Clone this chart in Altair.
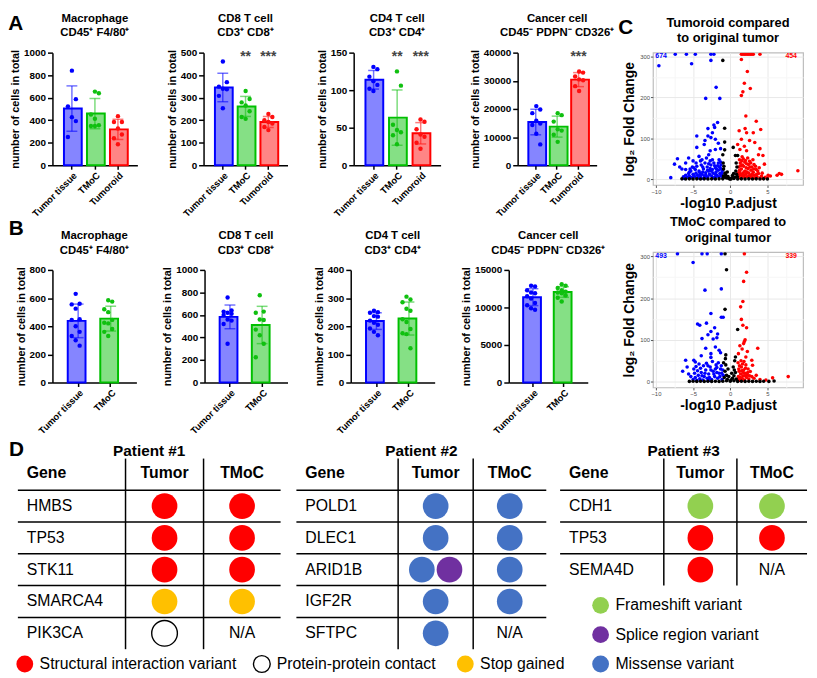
import altair as alt
import pandas as pd

FONT = "Liberation Sans"

# ---------------- Panels A and B : groups, values, ticks ----------------
groups_a = ["Tumor tissue", "TMoC", "Tumoroid"]
groups_b = ["Tumor tissue", "TMoC"]

a_mac_tumor = [840, 587, 523, 427, 392, 250]
a_mac_tmoc = [654, 640, 450, 413, 355, 349, 349]
a_mac_tumoroid = [436, 384, 384, 326, 273, 240, 186]
a_cd8_tumor = [461, 369, 349, 340, 337, 308, 253]
a_cd8_tmoc = [330, 294, 279, 265, 240, 214, 206]
a_cd8_tumoroid = [228, 214, 200, 192, 185, 170, 156]
a_cd4_tumor = [131, 128, 118, 112, 107, 102, 99]
a_cd4_tmoc = [125, 106, 54, 47, 44, 40, 28]
a_cd4_tumoroid = [61, 58, 48, 41, 38, 30, 22]
a_can_tumor = [21000, 19800, 18500, 15800, 14800, 14300, 11200, 7400]
a_can_tmoc = [18500, 17800, 15500, 12800, 12300, 10800, 8300]
a_can_tumoroid = [33300, 32900, 31500, 30500, 30200, 28100, 26400]

b_mac_tumor = [630, 560, 555, 525, 450, 445, 400, 360, 330, 300, 262]
b_mac_tmoc = [585, 575, 520, 500, 445, 425, 420, 380, 360, 330]
b_cd8_tumor = [755, 640, 630, 620, 610, 600, 560, 550, 520, 345]
b_cd8_tmoc = [775, 630, 620, 560, 555, 470, 420, 345, 225]
b_cd4_tumor = [255, 250, 248, 236, 234, 220, 212, 205, 192, 180, 168]
b_cd4_tmoc = [305, 295, 285, 262, 255, 225, 215, 190, 175, 172, 122]
b_can_tumor = [12900, 12800, 12300, 12000, 11900, 11500, 11200, 10600, 10300, 9900, 9700]
b_can_tmoc = [13100, 12900, 12600, 12300, 12100, 12000, 11900, 11600, 11300, 10800]

ticks_a_mac = [0, 200, 400, 600, 800, 1000]
ticks_a_cd8 = [0, 100, 200, 300, 400, 500]
ticks_a_cd4 = [0, 50, 100, 150]
ticks_a_can = [0, 10000, 20000, 30000, 40000]
ticks_b_mac = [0, 200, 400, 600, 800]
ticks_b_cd8 = [0, 200, 400, 600, 800, 1000]
ticks_b_cd4 = [0, 100, 200, 300, 400]
ticks_b_can = [0, 5000, 10000, 15000]

title_mac = ["Macrophage", "CD45\u207a F4/80\u207a"]
title_cd8 = ["CD8 T cell", "CD3\u207a CD8\u207a"]
title_cd4 = ["CD4 T cell", "CD3\u207a CD4\u207a"]
title_can = ["Cancer cell", "CD45\u207b PDPN\u207b CD326\u207a"]
y_title_bar = "number of cells in total"

sig_groups_cd = ["TMoC", "Tumoroid"]
sig_labels_cd = ["**", "***"]
sig_groups_can = ["Tumoroid"]
sig_labels_can = ["***"]

# ---------------- Panel C : volcano points (x = -log10 P.adjust, y = log2 FC) ----------------
v1_top_down = [-7.4, -5.9, -4.7, -2.6, -2.2]
v1_top_up = [1.5, 1.7, 1.9, 2.1, 2.3, 2.5, 2.7, 2.9, 3.1, 4.0]
v1_down = [(-9.6, 278), (-5.2, 283), (-2.6, 291), (-1.9, 225), (-3.3, 198), (-1.4, 198), (-1.7, 139),
           (-2.2, 133), (-2.1, 127), (-3.0, 124), (-2.4, 114), (-4.5, 106), (-3.0, 106), (-3.4, 95),
           (-2.6, 102), (-2.0, 98), (-4.5, 78), (-2.0, 73), (-1.3, 75), (-5.6, 52), (-7.1, 50), (-7.5, 37),
           (-4.2, 56), (-3.8, 48), (-2.9, 60), (-6.5, 25), (-6.0, 24), (-5.5, 18), (-8.0, 4), (-6.2, 2),
           (-3.5, 85), (-1.6, 88), (-2.7, 70),
           (-5.8, 5), (-5.5, 8), (-5.2, 4), (-5.0, 12), (-4.8, 6), (-4.6, 15), (-4.4, 9), (-4.2, 20),
           (-4.0, 5), (-3.8, 12), (-3.6, 25), (-3.5, 8), (-3.3, 16), (-3.1, 30), (-3.0, 6), (-2.9, 20),
           (-2.8, 12), (-2.6, 35), (-2.5, 8), (-2.4, 24), (-2.3, 15), (-2.2, 40), (-2.1, 5), (-2.0, 28),
           (-1.9, 18), (-1.8, 10), (-1.7, 33), (-1.6, 22), (-1.5, 6), (-1.4, 14), (-1.3, 26), (-1.2, 9),
           (-1.1, 18), (-1.0, 4), (-5.3, 20), (-4.9, 28), (-4.5, 32), (-4.1, 10), (-3.9, 35), (-3.4, 40),
           (-3.2, 4), (-2.7, 45), (-2.0, 12), (-1.6, 40), (-1.25, 35), (-5.6, 14), (-6.0, 10), (-6.3, 6),
           (-4.3, 3), (-3.7, 18), (-2.55, 20), (-1.85, 25), (-1.45, 30), (-1.15, 12), (-2.35, 3),
           (-3.05, 22), (-4.7, 24), (-5.1, 30), (-6.8, 30), (-6.0, 40), (-5.0, 45), (-4.0, 45),
           (-3.2, 52), (-2.4, 48), (-1.5, 48), (-4.6, 40), (-3.7, 30), (-2.9, 38), (-2.1, 33), (-1.3, 42),
           (-5.4, 25), (-3.3, 10), (-2.7, 26), (-1.9, 6), (-1.05, 22), (-4.1, 16), (-4.9, 10), (-3.6, 2)]
v1_up = [(1.5, 293), (2.3, 264), (1.9, 235), (2.7, 222), (1.7, 214), (1.5, 205), (2.1, 155), (3.5, 142),
         (1.2, 119), (2.0, 124), (4.1, 122), (2.2, 114), (3.1, 114), (1.5, 98), (1.0, 85), (1.9, 81),
         (1.3, 73), (4.0, 75), (2.2, 70), (4.4, 58), (4.6, 37), (5.1, 10), (5.4, 8), (6.3, 10), (6.6, 14),
         (6.9, 12), (9.1, 21), (3.3, 90), (2.6, 95), (3.8, 60),
         (1.1, 5), (1.2, 10), (1.3, 18), (1.4, 3), (1.5, 25), (1.6, 8), (1.7, 14), (1.8, 32), (1.9, 5),
         (2.0, 20), (2.1, 12), (2.2, 38), (2.3, 6), (2.4, 26), (2.5, 15), (2.6, 44), (2.7, 9), (2.8, 22),
         (2.9, 30), (3.0, 4), (3.1, 17), (3.2, 36), (3.3, 10), (3.5, 24), (3.6, 6), (3.8, 14), (4.0, 3),
         (4.2, 8), (4.4, 2), (1.15, 30), (1.35, 40), (1.55, 45), (1.75, 50), (1.25, 22), (1.45, 12),
         (1.65, 35), (1.85, 18), (2.05, 46), (2.35, 52), (2.75, 40), (3.05, 48), (3.4, 32), (3.7, 20),
         (3.9, 28), (4.3, 15), (4.7, 5), (5.0, 3), (1.05, 15), (2.15, 28), (2.55, 8), (2.95, 12),
         (3.35, 3), (1.95, 42), (1.4, 33), (1.8, 10), (2.25, 18), (2.65, 30), (3.15, 25), (1.6, 55),
         (2.45, 36), (1.25, 48), (3.55, 12), (2.85, 4)]
v1_ns = [(-1.0, 291), (-0.75, 125), (-0.75, 91), (0.4, 78), (-0.75, 72), (-1.0, 60), (0.7, 58), (1.0, 58),
         (-6.5, 1), (-6.0, 0.5), (-5.5, 1), (-5.0, 0.5), (-4.5, 1), (-4.0, 0.5), (-3.5, 1), (-3.0, 0.5),
         (-2.5, 1), (-2.0, 0.5), (-1.5, 1), (-1.0, 1), (-0.8, 5), (-0.6, 10), (-0.5, 3), (-0.4, 18),
         (-0.3, 7), (-0.2, 2), (0.0, 1), (0.2, 3), (0.3, 9), (0.45, 14), (0.6, 5), (0.75, 20), (0.85, 12),
         (0.9, 30), (-0.9, 25), (-0.95, 40), (-0.7, 15), (0.5, 2), (1.0, 0.5), (1.5, 1), (2.0, 0.5),
         (2.5, 1), (3.0, 0.5), (3.5, 1), (4.0, 0.5), (4.5, 1), (5.0, 0.5), (-0.9, 8), (0.95, 6),
         (0.1, 0.5), (-0.1, 1), (-0.85, 32), (0.8, 40)]
v1_n_down, v1_n_up = 674, 454

v2_top_down = [-7.1, -3.8, -3.1, -1.2]
v2_top_up = [1.9]
v2_top_ns = [-0.7]
v2_down = [(-5.0, 285), (-3.4, 219), (-1.2, 222), (-2.6, 163), (-1.2, 154), (-0.95, 154), (-4.4, 138),
           (-4.1, 135), (-3.2, 140), (-2.1, 129), (-2.6, 120), (-3.0, 112), (-1.7, 114), (-1.8, 105),
           (-3.8, 103), (-2.3, 102), (-3.3, 80), (-2.0, 83), (-2.6, 67), (-1.3, 69), (-6.0, 51), (-4.9, 51),
           (-5.8, 35), (-6.4, 25), (-4.7, 47), (-3.9, 62), (-2.6, 58), (-1.5, 75),
           (-5.0, 5), (-4.7, 10), (-4.5, 3), (-4.3, 15), (-4.1, 7), (-3.9, 22), (-3.7, 4), (-3.5, 12),
           (-3.3, 28), (-3.1, 8), (-2.9, 18), (-2.7, 35), (-2.5, 5), (-2.3, 25), (-2.1, 12), (-1.9, 40),
           (-1.7, 8), (-1.5, 20), (-1.3, 30), (-1.1, 5), (-0.95, 15), (-4.8, 20), (-4.4, 26), (-4.0, 32),
           (-3.6, 38), (-3.2, 44), (-2.8, 10), (-2.4, 48), (-2.0, 30), (-1.6, 45), (-1.2, 38), (-5.3, 12),
           (-5.6, 18), (-3.0, 2), (-2.2, 18), (-1.4, 12), (-3.8, 14), (-4.6, 36), (-1.8, 22), (-1.0, 28),
           (-4.2, 42), (-3.4, 20), (-2.6, 28), (-1.8, 34), (-1.15, 20), (-2.9, 4), (-4.9, 30), (-3.0, 38)]
v2_up = [(2.2, 262), (1.8, 240), (1.7, 192), (1.4, 179), (1.5, 149), (1.7, 135), (2.2, 129), (2.0, 100),
         (1.9, 96), (1.8, 91), (3.7, 80), (1.3, 86), (1.1, 67), (1.6, 78), (2.3, 72), (2.1, 59), (2.9, 51),
         (3.0, 39), (3.5, 15), (5.7, 9), (7.8, 12), (4.8, 4),
         (1.0, 5), (1.1, 12), (1.2, 25), (1.3, 3), (1.4, 18), (1.5, 35), (1.6, 8), (1.7, 14), (1.8, 28),
         (1.9, 4), (2.0, 20), (2.1, 40), (2.2, 10), (2.3, 16), (2.5, 6), (2.7, 24), (2.9, 12), (1.05, 45),
         (1.25, 38), (1.45, 50), (1.65, 42), (1.85, 48), (2.05, 32), (2.4, 30), (2.6, 14), (3.2, 8),
         (4.0, 5), (1.35, 10), (1.75, 22), (1.15, 30), (1.55, 26), (1.95, 14), (2.35, 22), (1.45, 6)]
v2_ns = [(-0.5, 268), (-0.7, 173), (1.0, 125), (-0.6, 64), (0.7, 59), (5.2, 0.5), (5.9, 1.5),
         (-5.5, 0.5), (-5.0, 1), (-4.5, 0.5), (-4.0, 1), (-3.5, 0.5), (-3.0, 1), (-2.5, 0.5), (-2.0, 1),
         (-1.5, 0.5), (-1.0, 1), (-0.5, 2), (0.0, 1), (0.5, 2), (1.0, 0.5), (1.5, 1), (2.0, 0.5), (2.5, 1),
         (3.0, 0.5), (3.5, 1), (4.0, 0.5), (4.5, 1),
         (-0.8, 10), (-0.7, 25), (-0.6, 40), (-0.5, 15), (-0.4, 5), (-0.3, 30), (-0.2, 12), (0.1, 4),
         (0.2, 20), (0.3, 8), (0.4, 35), (0.5, 14), (0.6, 50), (0.7, 22), (0.8, 6), (-0.65, 55),
         (0.55, 28), (-0.9, 45)]
v2_n_down, v2_n_up = 493, 339

title_v1 = ["Tumoroid compared", "to original tumor"]
title_v2 = ["TMoC compared to", "original tumor"]
v_x_ticks = [-10, -7.5, -5, -2.5, 0, 2.5, 5, 7.5]
v_y_ticks = [0, 50, 100, 150, 200, 250, 300]

# ---------------- Panel D : mutation tables ----------------
patients = ["Patient #1", "Patient #2", "Patient #3"]
p1_genes = ["HMBS", "TP53", "STK11", "SMARCA4", "PIK3CA"]
p1_tumor = ["SIV", "SIV", "SIV", "SG", "PPC"]
p1_tmoc = ["SIV", "SIV", "SIV", "SG", ""]
p2_genes = ["POLD1", "DLEC1", "ARID1B", "IGF2R", "SFTPC"]
p2_tumor = ["MIS", "MIS", "MIS+SPL", "MIS", "MIS"]
p2_tmoc = ["MIS", "MIS", "MIS", "MIS", ""]
p3_genes = ["CDH1", "TP53", "SEMA4D"]
p3_tumor = ["FS", "SIV", "SIV"]
p3_tmoc = ["FS", "SIV", ""]
table_headers = ["Gene", "Tumor", "TMoC"]
na_text = "N/A"
variant_keys = ["SIV", "PPC", "SG", "FS", "SPL", "MIS"]
variant_names = ["Structural interaction variant", "Protein-protein contact", "Stop gained",
                 "Frameshift variant", "Splice region variant", "Missense variant"]
variant_colors = ["#ff0000", "#ffffff", "#ffc000", "#92d050", "#7030a0", "#4472c4"]
panel_letters = ["A", "B", "C", "D"]

# ---------------- styles ----------------
FILL = {"Tumor tissue": "#8585ff", "TMoC": "#85e085", "Tumoroid": "#ff8585"}
STROKE = {"Tumor tissue": "#0000ff", "TMoC": "#00c000", "Tumoroid": "#ff0000"}
POINT = {"Tumor tissue": "#0000ff", "TMoC": "#10c010", "Tumoroid": "#ff1010"}
INDEP = dict(color="independent", fill="independent", stroke="independent", size="independent")


def letter_title(letter, offset, dx):
    return alt.TitleParams(text=letter, anchor="start", orient="top", frame="bounds", fontSize=21,
                           fontWeight="bold", font=FONT, color="black", offset=offset, dx=dx)


def bar_panel(title, groups, values, ticks, width, pin, pout, sig_g=None, sig_l=None):
    rows = [{"group": g, "value": v} for g, vals in zip(groups, values) for v in vals]
    df = pd.DataFrame(rows)
    ymax = ticks[-1]
    xenc = alt.X("group:N", sort=groups,
                 scale=alt.Scale(domain=groups, paddingInner=pin, paddingOuter=pout),
                 axis=alt.Axis(title=None, labelAngle=315, labelFontSize=9.5, labelFontWeight="bold",
                               labelFont=FONT, labelColor="black", tickSize=4, tickWidth=1.5,
                               tickColor="black", domainColor="black", domainWidth=1.5,
                               labelPadding=1, labelOverlap=False))
    yscale = alt.Scale(domain=[0, ymax], nice=False)
    yaxis = alt.Axis(values=ticks, format="d", title=y_title_bar, titleFontSize=11,
                     titleFontWeight="bold", titleFont=FONT, titleColor="black", labelFontSize=10,
                     labelFontWeight="bold", labelFont=FONT, labelColor="black", tickSize=5,
                     tickWidth=1.5, tickColor="black", domainColor="black", domainWidth=1.5,
                     grid=False, labelPadding=2, titlePadding=3)
    base = alt.Chart(df)
    bars = base.mark_bar(strokeWidth=2).encode(
        x=xenc, y=alt.Y("mean(value):Q", scale=yscale, axis=yaxis),
        fill=alt.Fill("group:N", scale=alt.Scale(domain=groups, range=[FILL[g] for g in groups]),
                      legend=None),
        stroke=alt.Stroke("group:N", scale=alt.Scale(domain=groups, range=[STROKE[g] for g in groups]),
                          legend=None))
    cscale = alt.Scale(domain=groups, range=[POINT[g] for g in groups])
    err = base.mark_errorbar(extent="stdev", ticks=True, size=11, thickness=1.5, opacity=0.55).encode(
        x=xenc, y=alt.Y("value:Q", scale=yscale, axis=yaxis),
        color=alt.Color("group:N", scale=cscale, legend=None))
    pts = base.transform_window(
        rn="row_number()", groupby=["group"], sort=[alt.SortField("value", order="descending")]
    ).transform_calculate(jit="((datum.rn % 3) - 1) * 0.5").mark_circle(size=20, opacity=1).encode(
        x=xenc, xOffset=alt.XOffset("jit:Q", scale=alt.Scale(domain=[-1, 1])),
        y=alt.Y("value:Q", scale=yscale, axis=yaxis),
        color=alt.Color("group:N", scale=cscale, legend=None))
    layers = [bars, err, pts]
    if sig_g:
        sdf = pd.DataFrame({"group": sig_g, "label": sig_l, "top": [ymax] * len(sig_g)})
        layers.append(alt.Chart(sdf).mark_text(fontSize=14, fontWeight="bold", font=FONT,
                                               color="#444444", baseline="middle", dy=4).encode(
            x=xenc, y=alt.Y("top:Q", scale=yscale, axis=yaxis), text="label:N"))
    return alt.layer(*layers).properties(
        width=width, height=114,
        title=alt.TitleParams(text=title, fontSize=11.5, fontWeight="bold", font=FONT, lineHeight=15,
                              offset=9, anchor="middle", frame="group", color="black"))


def volcano(title, top_down, top_up, top_ns, down, up, ns, n_down, n_up, height):
    xdom = [-10.4, 9.8]
    ydom = [-14, 310]
    ytop = 306
    rows = ([{"x": x, "y": ytop, "cls": "down"} for x in top_down] +
            [{"x": x, "y": y, "cls": "down"} for x, y in down] +
            [{"x": x, "y": ytop, "cls": "up"} for x in top_up] +
            [{"x": x, "y": y, "cls": "up"} for x, y in up] +
            [{"x": x, "y": ytop, "cls": "ns"} for x in top_ns] +
            [{"x": x, "y": y, "cls": "ns"} for x, y in ns])
    df = pd.DataFrame(rows)
    xs = alt.Scale(domain=xdom, nice=False, zero=False)
    ys = alt.Scale(domain=ydom, nice=False, zero=False)
    minor_x = "datum.value % 5 !== 0"
    minor_y = "datum.value % 100 !== 0"
    xaxis = alt.Axis(values=v_x_ticks, labelExpr="datum.value % 5 === 0 ? datum.label : ''",
                     title="-log10 P.adjust", titleFontSize=14, titleFontWeight="bold", titleFont=FONT,
                     titleColor="black", titlePadding=2, labelFontSize=6, labelColor="#4d4d4d",
                     labelFont=FONT, labelPadding=1, tickSize=2.5, domain=False, grid=True,
                     gridColor={"condition": {"test": minor_x, "value": "#f6f6f6"}, "value": "#e8e8e8"},
                     tickColor={"condition": {"test": minor_x, "value": "transparent"}, "value": "#555555"})
    yaxis = alt.Axis(values=v_y_ticks, labelExpr="datum.value % 100 === 0 ? datum.label : ''",
                     title="log\u2082 Fold Change", titleFontSize=14, titleFontWeight="bold",
                     titleFont=FONT, titleColor="black", titlePadding=3, labelFontSize=6,
                     labelColor="#4d4d4d", labelFont=FONT, labelPadding=1, tickSize=2.5, domain=False,
                     grid=True,
                     gridColor={"condition": {"test": minor_y, "value": "#f6f6f6"}, "value": "#e8e8e8"},
                     tickColor={"condition": {"test": minor_y, "value": "transparent"}, "value": "#555555"})
    cscale = alt.Scale(domain=["down", "up", "ns"], range=["#0000ff", "#ff0000", "#000000"])
    pts = alt.Chart(df).mark_circle(size=13, opacity=1, clip=True).encode(
        x=alt.X("x:Q", scale=xs, axis=xaxis), y=alt.Y("y:Q", scale=ys, axis=yaxis),
        color=alt.Color("cls:N", scale=cscale, legend=None))
    cdf = pd.DataFrame({"x": [xdom[0] + 1.1, xdom[1] - 1.6], "y": [ydom[1] - 9, ydom[1] - 9],
                        "t": [str(n_down), str(n_up)], "cls": ["down", "up"]})
    counts = alt.Chart(cdf).mark_text(fontSize=7, fontWeight="bold", font=FONT).encode(
        x=alt.X("x:Q", scale=xs, axis=xaxis), y=alt.Y("y:Q", scale=ys, axis=yaxis), text="t:N",
        color=alt.Color("cls:N", scale=cscale, legend=None))
    return alt.layer(pts, counts).properties(
        width=152, height=height,
        view=alt.ViewBackground(stroke="#bdbdbd", strokeWidth=1.2),
        title=alt.TitleParams(text=title, fontSize=13, fontWeight="bold", font=FONT, lineHeight=16,
                              offset=7, anchor="middle", frame="group", color="black"))


# ---------------- build A / B rows ----------------
PI_A, PO_A = 0.31, 0.5
PI_B, PO_B = 0.36, 0.47
A1 = bar_panel(title_mac, groups_a, [a_mac_tumor, a_mac_tmoc, a_mac_tumoroid], ticks_a_mac, 86, PI_A, PO_A)
A2 = bar_panel(title_cd8, groups_a, [a_cd8_tumor, a_cd8_tmoc, a_cd8_tumoroid], ticks_a_cd8, 85, PI_A, PO_A,
               sig_groups_cd, sig_labels_cd)
A3 = bar_panel(title_cd4, groups_a, [a_cd4_tumor, a_cd4_tmoc, a_cd4_tumoroid], ticks_a_cd4, 88, PI_A, PO_A,
               sig_groups_cd, sig_labels_cd)
A4 = bar_panel(title_can, groups_a, [a_can_tumor, a_can_tmoc, a_can_tumoroid], ticks_a_can, 80, PI_A, PO_A,
               sig_groups_can, sig_labels_can)
B1 = bar_panel(title_mac, groups_b, [b_mac_tumor, b_mac_tmoc], ticks_b_mac, 85, PI_B, PO_B)
B2 = bar_panel(title_cd8, groups_b, [b_cd8_tumor, b_cd8_tmoc], ticks_b_cd8, 84, PI_B, PO_B)
B3 = bar_panel(title_cd4, groups_b, [b_cd4_tumor, b_cd4_tmoc], ticks_b_cd4, 85, PI_B, PO_B)
B4 = bar_panel(title_can, groups_b, [b_can_tumor, b_can_tmoc], ticks_b_can, 80, PI_B, PO_B)

row_a = alt.hconcat(A1, A2, A3, A4, spacing=27, title=letter_title(panel_letters[0], -22, -1))
row_b = alt.hconcat(B1, B2, B3, B4, spacing=24, title=letter_title(panel_letters[1], -10, -6))
col_ab = alt.vconcat(row_a, row_b, spacing=0).resolve_scale(**INDEP)

C1 = volcano(title_v1, v1_top_down, v1_top_up, [], v1_down, v1_up, v1_ns, v1_n_down, v1_n_up, 134)
C2 = volcano(title_v2, v2_top_down, v2_top_up, v2_top_ns, v2_down, v2_up, v2_ns, v2_n_down, v2_n_up, 137)
col_c = alt.vconcat(C1, C2, spacing=68, bounds="flush",
                    title=letter_title(panel_letters[2], -22, -4)).resolve_scale(**INDEP)

top = alt.hconcat(col_ab, col_c, spacing=2).resolve_scale(**INDEP)

# ---------------- build D (tables) ----------------
D_X0 = 44          # data x of the plot's left edge (aligned with panel A's first plot)
D_W, D_H = 764, 238
tbl_left = [9, 291, 558]
tbl_gene_w = [109, 103, 105]
tbl_col_w = [(79, 78), (76, 74), (74, 71)]
row_h = 32.2
hdr_y = 35
line0 = 52
vtop = 20
title_y = 12
gene_pad = 9
circle_gap = 28

tables = [(patients[0], p1_genes, p1_tumor, p1_tmoc),
          (patients[1], p2_genes, p2_tumor, p2_tmoc),
          (patients[2], p3_genes, p3_tumor, p3_tmoc)]

hl, vl, gene_t, hdr_l, hdr_c, na_t, circ, ttl = [], [], [], [], [], [], [], []
t_bottoms = []
for ti, (pname, genes, tum, tmo) in enumerate(tables):
    L = tbl_left[ti]
    x1 = L + tbl_gene_w[ti]
    x2 = x1 + tbl_col_w[ti][0]
    R = x2 + tbl_col_w[ti][1]
    centers = [(x1 + x2) / 2, (x2 + R) / 2]
    n = len(genes)
    bottom = line0 + n * row_h
    t_bottoms.append(bottom)
    ttl.append({"x": (L + R) / 2, "y": title_y, "t": pname})
    hdr_l.append({"x": L + gene_pad, "y": hdr_y, "t": table_headers[0]})
    hdr_c.append({"x": centers[0], "y": hdr_y, "t": table_headers[1]})
    hdr_c.append({"x": centers[1], "y": hdr_y, "t": table_headers[2]})
    for k in range(n):
        hl.append({"x": L, "x2": R, "y": line0 + k * row_h})
    for xv in (x1, x2):
        vl.append({"x": xv, "y": vtop, "y2": bottom})
    for k, g in enumerate(genes):
        yc = line0 + (k + 0.5) * row_h
        gene_t.append({"x": L + gene_pad, "y": yc, "t": g})
        for cx, cell in zip(centers, (tum[k], tmo[k])):
            if not cell:
                na_t.append({"x": cx, "y": yc, "t": na_text})
                continue
            vs = cell.split("+")
            for i, v in enumerate(vs):
                circ.append({"x": cx + (i - (len(vs) - 1) / 2) * circle_gap, "y": yc, "v": v, "sz": 676})

leg = []
leg_bottom_y = t_bottoms[0] + 15
for key, cx in zip(variant_keys[:3], [16, 256, 462]):
    leg.append({"x": cx, "y": leg_bottom_y, "v": key})
leg_right_x = 599
leg_step = (leg_bottom_y - (t_bottoms[2] + 20)) / 2
for i, key in enumerate(variant_keys[3:]):
    leg.append({"x": leg_right_x, "y": t_bottoms[2] + 20 + i * leg_step, "v": key})
leg_t = []
for item in leg:
    circ.append({"x": item["x"], "y": item["y"], "v": item["v"], "sz": 289})
    leg_t.append({"x": item["x"] + 15, "y": item["y"], "t": variant_names[variant_keys.index(item["v"])]})

DX = alt.Scale(domain=[D_X0, D_X0 + D_W], nice=False, zero=False)
DY = alt.Scale(domain=[0, D_H], nice=False, zero=False, reverse=True)


def dx(f):
    return alt.X(f, type="quantitative", scale=DX, axis=None)


def dy(f):
    return alt.Y(f, type="quantitative", scale=DY, axis=None)


def text_layer(rows, size, weight, align, baseline="middle"):
    return alt.Chart(pd.DataFrame(rows)).mark_text(
        fontSize=size, fontWeight=weight, font=FONT, align=align, baseline=baseline, color="black"
    ).encode(x=dx("x"), y=dy("y"), text="t:N")


hl_layer = alt.Chart(pd.DataFrame(hl)).mark_rule(strokeWidth=1.5, color="black").encode(
    x=dx("x"), x2="x2:Q", y=dy("y"))
vl_layer = alt.Chart(pd.DataFrame(vl)).mark_rule(strokeWidth=1.5, color="black").encode(
    x=dx("x"), y=dy("y"), y2="y2:Q")
circ_df = pd.DataFrame(circ)
fill_circ = alt.Chart(circ_df).transform_filter("datum.v !== 'PPC'").mark_circle(opacity=1).encode(
    x=dx("x"), y=dy("y"),
    size=alt.Size("sz:Q", scale=None, legend=None),
    color=alt.Color("v:N", scale=alt.Scale(domain=variant_keys, range=variant_colors), legend=None))
open_circ = alt.Chart(circ_df).transform_filter("datum.v === 'PPC'").mark_point(
    shape="circle", filled=False, stroke="black", strokeWidth=1.4, opacity=1).encode(
    x=dx("x"), y=dy("y"), size=alt.Size("sz:Q", scale=None, legend=None))

D = alt.layer(
    hl_layer, vl_layer, fill_circ, open_circ,
    text_layer(gene_t, 16, "normal", "left"),
    text_layer(na_t, 16, "normal", "center"),
    text_layer(hdr_l, 16, "bold", "left"),
    text_layer(hdr_c, 16, "bold", "center"),
    text_layer(ttl, 15.5, "bold", "center"),
    text_layer(leg_t, 16, "normal", "left"),
    text_layer([{"x": 0, "y": 0, "t": panel_letters[3]}], 21, "bold", "left", "top"),
).properties(width=D_W, height=D_H)

chart = alt.vconcat(top, D, spacing=2).resolve_scale(**INDEP).properties(padding=0).configure(
    font=FONT, view=alt.ViewConfig(stroke="transparent"))

chart.save("out.html", embed_options={"renderer": "svg", "actions": False})
